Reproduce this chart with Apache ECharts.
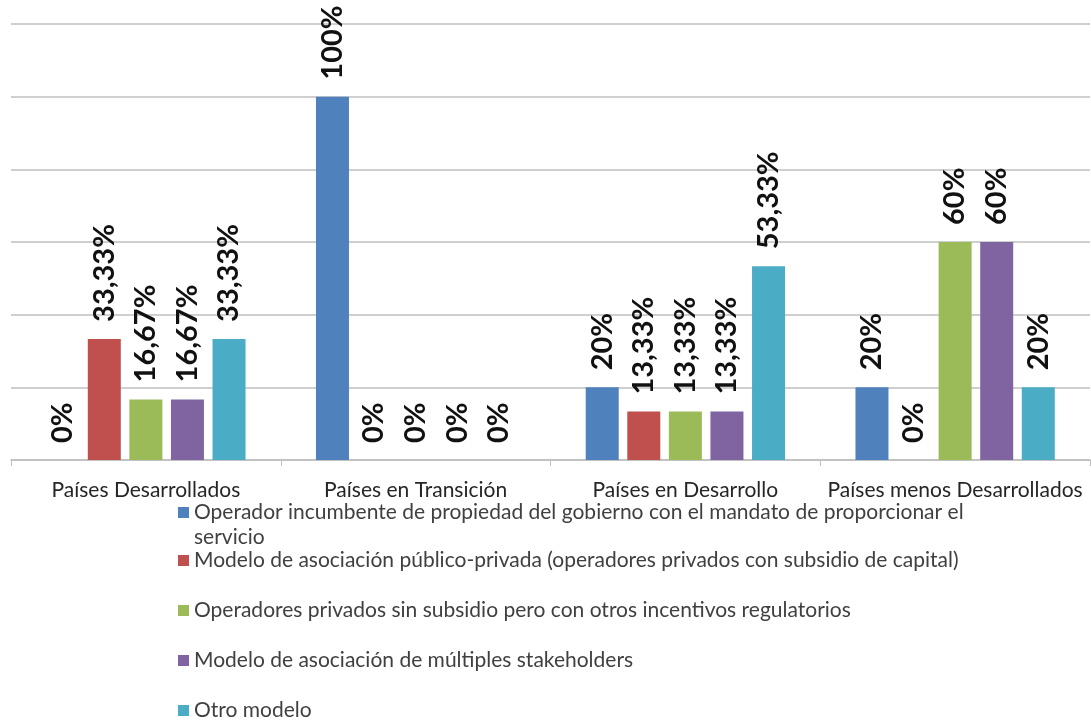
<!DOCTYPE html>
<html>
<head>
<meta charset="utf-8">
<script src="https://cdn.jsdelivr.net/npm/echarts@6/dist/echarts.min.js"></script>
<style>
  html, body { margin: 0; padding: 0; background: #fff; }
  #chart { width: 1091px; height: 722px; }
</style>
</head>
<body>
<div id="chart"></div>
<script>
const categories = ['Países Desarrollados', 'Países en Transición', 'Países en Desarrollo', 'Países menos Desarrollados'];
const seriesNames = [
  'Operador incumbente de propiedad del gobierno con el mandato de proporcionar el servicio',
  'Modelo de asociación público-privada (operadores privados con subsidio de capital)',
  'Operadores privados sin subsidio pero con otros incentivos regulatorios',
  'Modelo de asociación de múltiples stakeholders',
  'Otro modelo'
];
const incumbente = [0, 100, 20, 20];
const publicoPrivada = [33.33, 0, 13.33, 0];
const sinSubsidio = [16.67, 0, 13.33, 60];
const multiStakeholders = [16.67, 0, 13.33, 60];
const otroModelo = [33.33, 0, 53.33, 20];
const colors = ['#4f81bd', '#c0504d', '#9bbb59', '#8064a2', '#4bacc6'];

const allValues = [incumbente, publicoPrivada, sinSubsidio, multiStakeholders, otroModelo];

const fmt = (v) => (Number.isInteger(v) ? String(v) : v.toFixed(2).replace('.', ',')) + '%';

const chart = echarts.init(document.getElementById('chart'));

const series = allValues.map((vals, i) => ({
  name: seriesNames[i],
  type: 'bar',
  data: vals,
  barWidth: 33,
  barGap: '26%',
  itemStyle: { color: colors[i] },
  label: {
    show: true,
    position: 'top',
    rotate: 90,
    align: 'left',
    verticalAlign: 'middle',
    distance: 17,
    fontFamily: 'Lato',
    fontWeight: 'bold',
    fontSize: 29,
    color: '#111',
    formatter: (p) => fmt(p.value)
  }
}));

const legendText = { fontFamily: 'Lato', fontSize: 21, color: '#404040', lineHeight: 25 };

chart.setOption({
  animation: false,
  grid: { left: 11, right: 1, top: 24, bottom: 262 },
  legend: [
    {
      // first entry wraps onto two lines; tall icon box keeps the square on line one
      data: [seriesNames[0]],
      orient: 'vertical',
      left: 178,
      top: 500,
      padding: 0,
      icon: 'path://M0,0H11V11H0Z M0,36H0.01V36.01H0Z',
      itemWidth: 11,
      itemHeight: 36,
      textStyle: Object.assign({}, legendText, { width: 785, overflow: 'break' })
    },
    {
      data: seriesNames.slice(1),
      orient: 'vertical',
      left: 178,
      top: 548,
      height: 220,
      padding: 0,
      itemGap: 25,
      icon: 'rect',
      itemWidth: 11,
      itemHeight: 11,
      textStyle: legendText
    }
  ],
  xAxis: {
    type: 'category',
    data: categories,
    axisLine: { lineStyle: { color: '#bfbfbf', width: 1.5 } },
    axisTick: { show: true, length: 6, lineStyle: { color: '#bfbfbf' } },
    axisLabel: { interval: 0, fontFamily: 'Lato', fontSize: 21, color: '#262626', margin: 20 }
  },
  yAxis: {
    type: 'value',
    min: 0,
    max: 120,
    interval: 20,
    axisLabel: { show: false },
    axisLine: { show: false },
    axisTick: { show: false },
    splitLine: { lineStyle: { color: '#bfbfbf', width: 1.5 } }
  },
  series: series
});

window.addEventListener('resize', () => chart.resize());
</script>
</body>
</html>
